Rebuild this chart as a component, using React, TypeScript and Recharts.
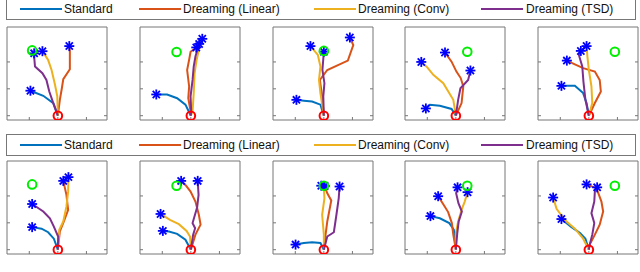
import { ComposedChart, Line, Scatter, XAxis, YAxis } from 'recharts';

type XY = [number, number];

const methods = ['Standard', 'Dreaming (Linear)', 'Dreaming (Conv)', 'Dreaming (TSD)'];
const colors = ['#0072BD', '#D95319', '#EDB120', '#7E2F8E'];

// one trajectory per panel (panels 1-5 top row, 6-10 bottom row)
const standardPaths: XY[][] = [
  [[0, 0], [-0.16, 0.47], [-0.51, 0.74], [-0.96, 0.93]],
  [[0, 0], [-0.19, 0.41], [-0.48, 0.65], [-0.83, 0.79], [-1.21, 0.79]],
  [[0, 0], [-0.12, 0.41], [-0.41, 0.53], [-0.7, 0.56], [-0.96, 0.59]],
  [[0, 0], [-0.15, 0.25], [-0.56, 0.37], [-0.91, 0.41], [-1.05, 0.27]],
  [[0, 0], [-0.08, 0.47], [-0.2, 0.84], [-0.49, 1.11], [-0.96, 1.11]],
  [[0, 0], [-0.14, 0.41], [-0.34, 0.65], [-0.57, 0.78], [-0.9, 0.84]],
  [[0, 0], [-0.19, 0.37], [-0.48, 0.59], [-0.77, 0.68], [-0.98, 0.7]],
  [[0, 0], [-0.12, 0.25], [-0.41, 0.28], [-0.7, 0.25], [-0.99, 0.19]],
  [[0, 0], [-0.07, 0.74], [-0.23, 0.99], [-0.56, 1.17], [-0.89, 1.25]],
  [[0, 0], [-0.12, 0.41], [-0.31, 0.62], [-0.63, 0.86], [-0.96, 1.14]],
];

const linearPaths: XY[][] = [
  [[0, 0], [0.07, 0.59], [0.14, 1.02], [0.19, 1.36], [0.42, 1.73], [0.42, 2.38], [0.4, 2.59]],
  [[0, 0], [-0.01, 0.16], [-0.09, 0.65], [-0.06, 1.09], [-0.13, 1.7], [-0.05, 2.14], [-0.01, 2.38], [0.19, 2.54]],
  [[0, 0], [-0.06, 0.72], [-0.14, 1.33], [0.12, 1.7], [0.84, 2.05], [1.03, 2.63], [0.91, 2.91]],
  [[0, 0], [0.2, 0.47], [0.26, 1.09], [0.17, 1.4], [0.02, 1.64], [-0.15, 2.01], [-0.38, 2.35]],
  [[0, 0], [0.21, 0.47], [0.42, 0.9], [0.38, 1.33], [0.21, 1.64], [-0.2, 1.77], [-0.49, 1.91], [-0.77, 2.05]],
  [[0, 0], [0.07, 0.68], [0.21, 1.05], [0.36, 1.48], [0.3, 2.04], [0.19, 2.56]],
  [[0, 0], [0.16, 0.56], [0.34, 0.93], [0.28, 1.3], [0.16, 1.79], [-0.01, 2.16], [-0.19, 2.41], [-0.34, 2.56]],
  [[0, 0], [0.06, 0.56], [0.12, 1.05], [0.26, 1.83], [0.12, 2.1], [0.03, 2.37]],
  [[0, 0], [-0.09, 0.56], [-0.14, 0.99], [-0.27, 1.4], [-0.44, 1.69], [-0.62, 1.99]],
  [[0, 0], [0.03, 0.19], [0.21, 0.56], [0.38, 0.93], [0.5, 1.42], [0.44, 1.79], [0.27, 2.28], [-0.08, 2.43]],
];

const convPaths: XY[][] = [
  [[0, 0], [-0.02, 0.72], [-0.1, 1.15], [-0.22, 1.7], [-0.34, 2.07], [-0.49, 2.32], [-0.54, 2.4]],
  [[0, 0], [0.06, 0.16], [0.1, 0.84], [0.13, 1.58], [0.2, 2.07], [0.28, 2.44], [0.4, 2.86]],
  [[0, 0], [-0.12, 0.84], [-0.17, 1.33], [-0.12, 1.83], [-0.21, 2.26], [-0.47, 2.59]],
  [[0, 0], [-0.09, 0.59], [-0.44, 1.21], [-0.79, 1.52], [-1.0, 1.8], [-1.21, 2.0]],
  [[0, 0], [0.12, 0.47], [0.09, 1.09], [0, 1.7], [-0.05, 2.2], [-0.08, 2.59]],
  [[0, 0], [0.05, 0.74], [0.19, 1.05], [0.3, 1.6], [0.36, 2.16], [0.37, 2.7]],
  [[0, 0], [-0.03, 0.49], [-0.15, 0.7], [-0.42, 0.95], [-0.73, 1.11], [-1.06, 1.33]],
  [[0, 0], [0, 0.56], [-0.06, 1.3], [0.02, 1.91], [0, 2.28], [-0.09, 2.38]],
  [[0, 0], [0, 0.62], [0.08, 1.05], [0.2, 1.48], [0.31, 1.79], [0.41, 2.14]],
  [[0, 0], [-0.2, 0.41], [-0.49, 0.78], [-0.84, 1.1], [-1.13, 1.52], [-1.25, 1.94]],
];

const tsdPaths: XY[][] = [
  [[0, 0], [-0.16, 0.47], [-0.3, 0.9], [-0.4, 1.33], [-0.54, 1.58], [-0.8, 1.83], [-0.83, 2.2], [-0.83, 2.32]],
  [[0, 0], [0.01, 0.22], [-0.01, 0.72], [0.06, 1.33], [0.1, 1.83], [0.16, 2.2], [0.29, 2.67]],
  [[0, 0], [-0.02, 0.72], [0.02, 1.21], [-0.05, 1.7], [0, 2.38]],
  [[0, 0], [0.08, 0.59], [0.16, 1.02], [0.43, 1.33], [0.51, 1.68]],
  [[0, 0], [-0.12, 0.59], [-0.19, 1.27], [-0.23, 1.83], [-0.35, 2.26], [-0.28, 2.41]],
  [[0, 0], [0.01, 0.49], [-0.14, 0.86], [-0.28, 1.17], [-0.51, 1.42], [-0.9, 1.7]],
  [[0, 0], [0.08, 0.56], [0.15, 0.8], [0.06, 0.99], [0.22, 1.58], [0.27, 2.04], [0.24, 2.56]],
  [[0, 0], [0.12, 0.49], [0.35, 0.65], [0.44, 1.3], [0.52, 1.91], [0.55, 2.35]],
  [[0, 0], [0.05, 0.62], [0.1, 1.05], [0.21, 1.42], [0.09, 1.73], [0.01, 2.1], [0.06, 2.32]],
  [[0, 0], [0.03, 0.19], [0.12, 0.56], [0.19, 0.99], [0.09, 1.36], [0.19, 1.79], [0.21, 2.16], [0.29, 2.32]],
];

const goals: XY[] = [
  [-0.9, 2.43], [-0.5, 2.37], [0, 2.41], [0.4, 2.38], [0.91, 2.38],
  [-0.9, 2.43], [-0.5, 2.38], [0, 2.38], [0.4, 2.38], [0.91, 2.38],
];
const start: XY = [0, 0];

const xTicks = [-1, 0, 1];
const yTicks = [0, 1, 2];
const X_DOMAIN: [number, number] = [-1.78, 1.72];
const Y_DOMAIN: [number, number] = [-0.16, 3.3];

const FRAME = '#777777';
const panelLefts = [7, 140, 273, 405, 538];
const rowTops = [27, 161];

const toPts = (p: XY[]) => p.map(([x, y]) => ({ x, y }));

const Star = (props: any) => {
  const { cx, cy } = props;
  const r = 5;
  const d = 3.6;
  return (
    <g stroke="#0000ff" strokeWidth={1.8}>
      <line x1={cx - r} y1={cy} x2={cx + r} y2={cy} />
      <line x1={cx} y1={cy - r} x2={cx} y2={cy + r} />
      <line x1={cx - d} y1={cy - d} x2={cx + d} y2={cy + d} />
      <line x1={cx - d} y1={cy + d} x2={cx + d} y2={cy - d} />
    </g>
  );
};

const Ring = (color: string) => (props: any) => (
  <circle cx={props.cx} cy={props.cy} r={4.3} fill="none" stroke={color} strokeWidth={2} />
);
const RedRing = Ring('#ff0000');
const GreenRing = Ring('#00ee00');

function Panel({ idx }: { idx: number }) {
  const left = panelLefts[idx % 5];
  const top = rowTops[Math.floor(idx / 5)];
  const series = [standardPaths, linearPaths, convPaths, tsdPaths].map(s => toPts(s[idx]));
  const stars = series.map(s => s[s.length - 1]);
  const axisCommon = {
    type: 'number' as const,
    allowDataOverflow: true,
    mirror: true,
    tickSize: 3,
    tickFormatter: () => '',
    stroke: FRAME,
  };
  return (
    <div style={{ position: 'absolute', left: left - 1, top: top - 1 }}>
      <ComposedChart width={102} height={95} margin={{ top: 1, right: 1, bottom: 1, left: 1 }}>
        <XAxis {...axisCommon} dataKey="x" domain={X_DOMAIN} ticks={xTicks} />
        <XAxis {...axisCommon} xAxisId="top" orientation="top" domain={X_DOMAIN} ticks={xTicks} />
        <YAxis {...axisCommon} domain={Y_DOMAIN} ticks={yTicks} />
        <YAxis {...axisCommon} yAxisId="right" orientation="right" domain={Y_DOMAIN} ticks={yTicks} />
        {series.map((d, i) => (
          <Line
            key={methods[i]}
            data={d}
            dataKey="y"
            type="linear"
            stroke={colors[i]}
            strokeWidth={2}
            dot={false}
            activeDot={false}
            isAnimationActive={false}
          />
        ))}
        <Scatter data={stars} dataKey="y" shape={Star} isAnimationActive={false} />
        <Scatter data={toPts([start])} dataKey="y" shape={RedRing} isAnimationActive={false} />
        <Scatter data={toPts([goals[idx]])} dataKey="y" shape={GreenRing} isAnimationActive={false} />
      </ComposedChart>
    </div>
  );
}

const legendLines = [20, 139, 314, 481];
const legendTexts = [64, 183, 358, 526];

function LegendBox({ top, height }: { top: number; height: number }) {
  return (
    <div
      style={{
        position: 'absolute',
        left: 6,
        top,
        width: 630,
        height,
        border: `1px solid ${FRAME}`,
        boxSizing: 'border-box',
      }}
    >
      {methods.map((m, i) => (
        <div key={m}>
          <div
            style={{
              position: 'absolute',
              left: legendLines[i] - 7,
              top: height / 2 - 2,
              width: 42,
              height: 2,
              background: colors[i],
            }}
          />
          <div
            style={{
              position: 'absolute',
              left: legendTexts[i] - 7,
              top: height / 2 - 8.5,
              fontSize: 12,
              lineHeight: '14px',
              color: '#111',
              whiteSpace: 'nowrap',
            }}
          >
            {m}
          </div>
        </div>
      ))}
    </div>
  );
}

export default function App() {
  return (
    <div
      style={{
        position: 'absolute',
        left: 0,
        top: 0,
        width: 640,
        height: 272,
        overflow: 'hidden',
        background: '#fff',
        fontFamily: '"Liberation Sans", Arial, sans-serif',
      }}
    >
      <LegendBox top={-2} height={22} />
      <LegendBox top={134} height={22} />
      {Array.from({ length: 10 }, (_, i) => (
        <Panel key={i} idx={i} />
      ))}
    </div>
  );
}
